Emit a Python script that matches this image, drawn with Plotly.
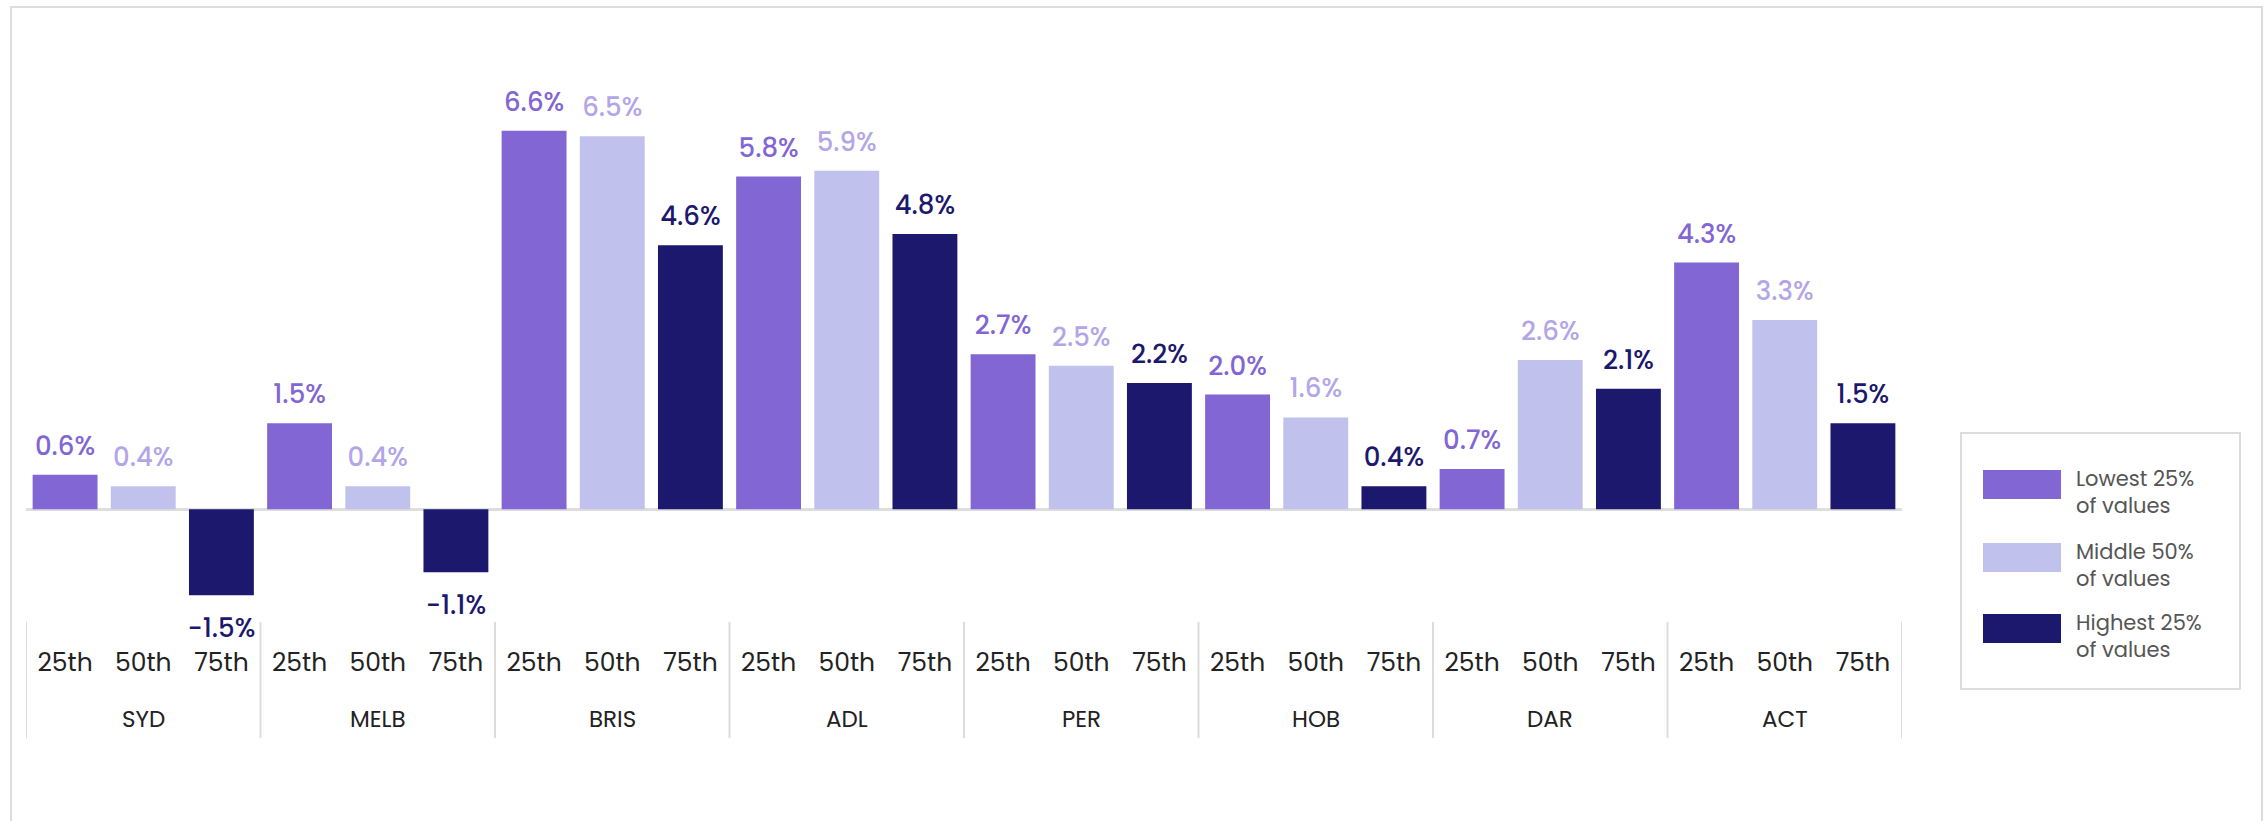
import plotly.graph_objects as go

# 数据
cities = ["SYD", "MELB", "BRIS", "ADL", "PER", "HOB", "DAR", "ACT"]
percentiles = ["25th", "50th", "75th"]
lowest_25 = [0.6, 1.5, 6.6, 5.8, 2.7, 2.0, 0.7, 4.3]
middle_50 = [0.4, 0.4, 6.5, 5.9, 2.5, 1.6, 2.6, 3.3]
highest_25 = [-1.5, -1.1, 4.6, 4.8, 2.2, 0.4, 2.1, 1.5]
legend_labels = ["Lowest 25%<br>of values", "Middle 50%<br>of values", "Highest 25%<br>of values"]

bar_colors = ["#8266D4", "#C1C1EE", "#1B186E"]
label_colors = ["#8266D4", "#B3A6E8", "#1B186E"]
FONT = "Poppins, Inter, sans-serif"

# 画布几何（像素）
W, H = 2268, 821
PLOT_L, PLOT_R, PLOT_T, PLOT_B = 26, 1902, 79, 624


def px_x(x):
    return (x - PLOT_L) / (PLOT_R - PLOT_L)


def px_y(y):
    return (PLOT_B - y) / (PLOT_B - PLOT_T)


# 展平：每个城市 × 百分位一个类别
series = [lowest_25, middle_50, highest_25]
cats, tick_text, y_vals, colors, tcolors, tpos, msize = [], [], [], [], [], [], []
for i, city in enumerate(cities):
    for j, pct in enumerate(percentiles):
        v = series[j][i]
        cats.append(f"{city} {pct}")
        tick_text.append(pct)
        y_vals.append(v)
        colors.append(bar_colors[j])
        tcolors.append(label_colors[j])
        tpos.append("top center" if v >= 0 else "bottom center")
        msize.append(20 if v >= 0 else 34)

fig = go.Figure()
fig.add_trace(go.Bar(
    x=cats,
    y=y_vals,
    marker_color=colors,
    marker_line_width=0,
    hoverinfo="skip",
))
fig.add_trace(go.Scatter(
    x=cats,
    y=y_vals,
    mode="markers+text",
    marker=dict(size=msize, opacity=0),
    text=[f"{v:.1f}%" for v in y_vals],
    textposition=tpos,
    textfont=dict(family=FONT, size=26, color=tcolors, weight=500),
    cliponaxis=False,
    hoverinfo="skip",
))

# 分组标签与分隔线
for i, city in enumerate(cities):
    fig.add_annotation(xref="x", yref="paper", x=f"{city} 50th", y=px_y(719),
                       text=city, showarrow=False, yanchor="middle",
                       font=dict(family=FONT, size=23, color="#222222"))
for i in range(len(cities) + 1):
    xb = i * len(percentiles) - 0.5
    fig.add_shape(type="line", xref="x", yref="paper",
                  x0=xb, x1=xb, y0=px_y(738), y1=px_y(622),
                  line=dict(color="#DCDCDC", width=2))

# 外框
fig.add_shape(type="rect", xref="paper", yref="paper",
              x0=px_x(11), x1=px_x(2262), y0=px_y(850), y1=px_y(7),
              line=dict(color="#DCDCDC", width=2), layer="below")

# 图例（手绘）
fig.add_shape(type="rect", xref="paper", yref="paper",
              x0=px_x(1961), x1=px_x(2240), y0=px_y(689), y1=px_y(433),
              line=dict(color="#DCDCDC", width=2))
sw_tops = [470, 543, 614]
for k in range(3):
    fig.add_shape(type="rect", xref="paper", yref="paper",
                  x0=px_x(1983), x1=px_x(2061),
                  y0=px_y(sw_tops[k] + 29), y1=px_y(sw_tops[k]),
                  fillcolor=bar_colors[k], line_width=0)
    fig.add_annotation(xref="paper", yref="paper",
                       x=px_x(2074), y=px_y(sw_tops[k] + 22),
                       xanchor="left", yanchor="middle", align="left",
                       text=legend_labels[k], showarrow=False,
                       font=dict(family=FONT, size=21, color="#555555"))

fig.update_layout(
    width=W,
    height=H,
    autosize=False,
    margin=dict(l=PLOT_L, r=W - PLOT_R, t=PLOT_T, b=H - PLOT_B),
    paper_bgcolor="white",
    plot_bgcolor="white",
    showlegend=False,
    bargap=0.17,
    font=dict(family=FONT, size=23, color="#222222"),
    xaxis=dict(
        type="category",
        range=[-0.5, len(cats) - 0.5],
        tickmode="array",
        tickvals=cats,
        ticktext=tick_text,
        showgrid=False,
        showline=False,
        ticks="",
        ticklabelstandoff=21,
        tickfont=dict(family=FONT, size=25, color="#222222"),
    ),
    yaxis=dict(
        range=[-2.0, 7.5],
        showgrid=False,
        showticklabels=False,
        ticks="",
        zeroline=True,
        zerolinecolor="#DEDEDE",
        zerolinewidth=3,
    ),
)

fig.write_html("out.html", config={"displayModeBar": False},
               post_script="document.body.style.margin='0';")
